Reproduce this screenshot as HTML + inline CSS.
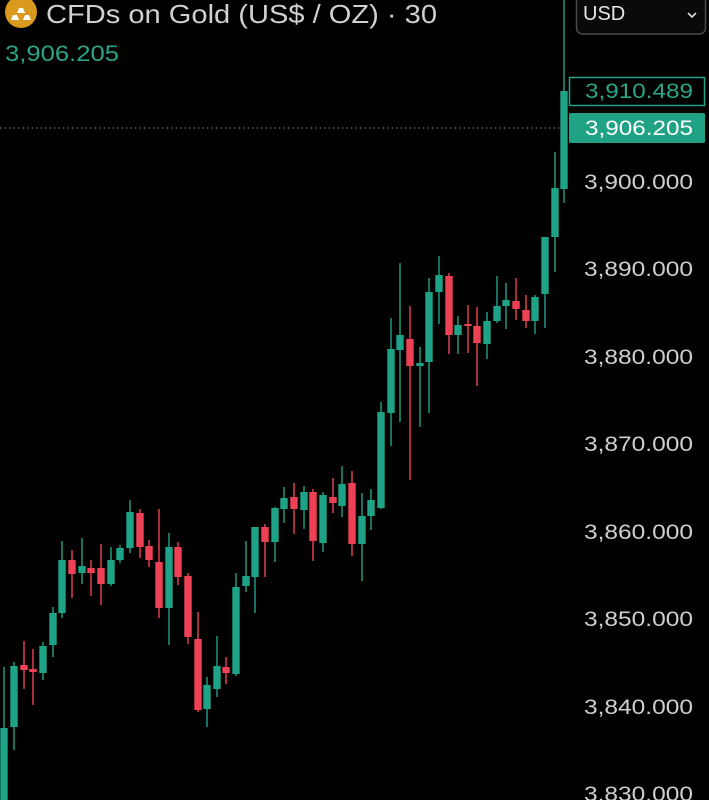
<!DOCTYPE html>
<html><head><meta charset="utf-8"><style>
html,body{margin:0;padding:0;background:#000;width:709px;height:800px;overflow:hidden}
svg{display:block}
text{font-family:"Liberation Sans",sans-serif}
</style></head><body>
<svg width="709" height="800" viewBox="0 0 709 800" xmlns="http://www.w3.org/2000/svg">
<rect width="709" height="800" fill="#000"/>
<line x1="0" y1="128" x2="562" y2="128" stroke="#8a8a8a" stroke-width="1" stroke-dasharray="1.5,3"/>
<g id="c"></g>
<circle cx="21" cy="12" r="16" fill="#d99a1e"/>
<path d="M11 20h8l-2-5h-4z M23 20h8l-2-5h-4z M17 13h8l-2-5h-4z" fill="#fff"/>
<text x="46" y="23" font-size="26" fill="#d0d0d0" textLength="391" lengthAdjust="spacingAndGlyphs">CFDs on Gold (US$ / OZ) · 30</text>
<text x="5" y="61" font-size="22" fill="#2aa58a" textLength="114" lengthAdjust="spacingAndGlyphs">3,906.205</text>
<rect x="576.5" y="-6" width="129" height="40" rx="6" fill="#0a0a0a" stroke="#4a4a4a" stroke-width="1.5"/>
<text x="583" y="20" font-size="20" fill="#e6e6e6">USD</text>
<path d="M688 13l4 4 4-4" fill="none" stroke="#ddd" stroke-width="1.6"/>
<rect x="569.5" y="77.5" width="135" height="28" fill="none" stroke="#23a387" stroke-width="1.5"/>
<text x="585" y="98" font-size="21" fill="#2aa58a" textLength="108" lengthAdjust="spacingAndGlyphs">3,910.489</text>
<rect x="569" y="113" width="136" height="30" rx="2" fill="#20a385"/>
<text x="585" y="135" font-size="21" fill="#fff" textLength="108" lengthAdjust="spacingAndGlyphs">3,906.205</text>
<g font-size="21" fill="#cfcfcf">
<text x="584" y="189" textLength="109" lengthAdjust="spacingAndGlyphs">3,900.000</text>
<text x="584" y="276" textLength="109" lengthAdjust="spacingAndGlyphs">3,890.000</text>
<text x="584" y="364" textLength="109" lengthAdjust="spacingAndGlyphs">3,880.000</text>
<text x="584" y="451" textLength="109" lengthAdjust="spacingAndGlyphs">3,870.000</text>
<text x="584" y="539" textLength="109" lengthAdjust="spacingAndGlyphs">3,860.000</text>
<text x="584" y="626" textLength="109" lengthAdjust="spacingAndGlyphs">3,850.000</text>
<text x="584" y="714" textLength="109" lengthAdjust="spacingAndGlyphs">3,840.000</text>
<text x="584" y="801" textLength="109" lengthAdjust="spacingAndGlyphs">3,830.000</text>
</g>
</svg>
<script>
var d=[
[4,'g',728,800,667,800],[14,'g',666,727,662,750],[24,'r',665,670,641,689],[33,'r',669,672,649,705],
[43,'g',646,673,642,680],[53,'g',613,645,607,657],[62,'g',560,613,541,618],[72,'r',560,574,550,598],
[82,'g',566,573,538,584],[91,'r',568,573,560,596],[101,'r',568,584,544,605],[111,'g',560,584,547,586],
[120,'g',548,560,545,563],[130,'g',512,548,500,553],[140,'r',513,547,509,558],[149,'r',546,560,540,567],
[159,'r',562,608,509,618],[169,'g',547,608,533,645],[178,'r',547,577,542,585],[188,'r',576,637,573,644],
[198,'r',639,710,612,712],[207,'g',685,709,677,727],[217,'g',666,689,636,697],[226,'r',667,673,657,684],
[236,'g',587,674,573,676],[246,'g',576,586,541,592],[255,'g',527,577,527,613],[265,'r',527,542,524,577],
[275,'g',508,542,507,562],[284,'g',498,509,487,523],[294,'r',497,509,483,534],[304,'g',492,510,486,529],
[313,'r',492,541,489,561],[323,'g',495,543,492,552],[333,'r',497,503,478,513],[342,'g',484,506,466,517],
[352,'r',483,544,471,556],[362,'g',516,544,493,581],[371,'g',500,516,489,530],[381,'g',412,508,402,509],
[391,'g',349,413,318,446],[400,'g',335,350,263,422],[410,'r',339,366,306,480],[420,'g',363,366,347,427],
[429,'g',292,362,278,413],[439,'g',275,292,256,324],[449,'r',276,335,273,354],[458,'g',325,335,316,354],
[468,'r',324,326,305,353],[477,'r',326,343,307,386],[487,'g',321,344,312,359],[497,'g',306,321,276,323],
[506,'g',300,306,283,329],[516,'r',301,309,278,320],[526,'r',310,321,295,328],[535,'g',297,321,295,334],
[545,'g',237,294,237,328],[555,'g',188,237,152,272],[564,'g',91,189,0,203]];
var g=document.getElementById('c'),s='';
d.forEach(function(c){var col=c[1]=='g'?'#1fa386':'#ef4155';
s+='<line x1="'+c[0]+'" x2="'+c[0]+'" y1="'+c[4]+'" y2="'+c[5]+'" stroke="'+col+'" stroke-width="1.4"/>';
s+='<rect x="'+(c[0]-3.7)+'" y="'+c[2]+'" width="7.4" height="'+Math.max(2,c[3]-c[2])+'" fill="'+col+'"/>';});
g.innerHTML=s;
</script>
</body></html>
